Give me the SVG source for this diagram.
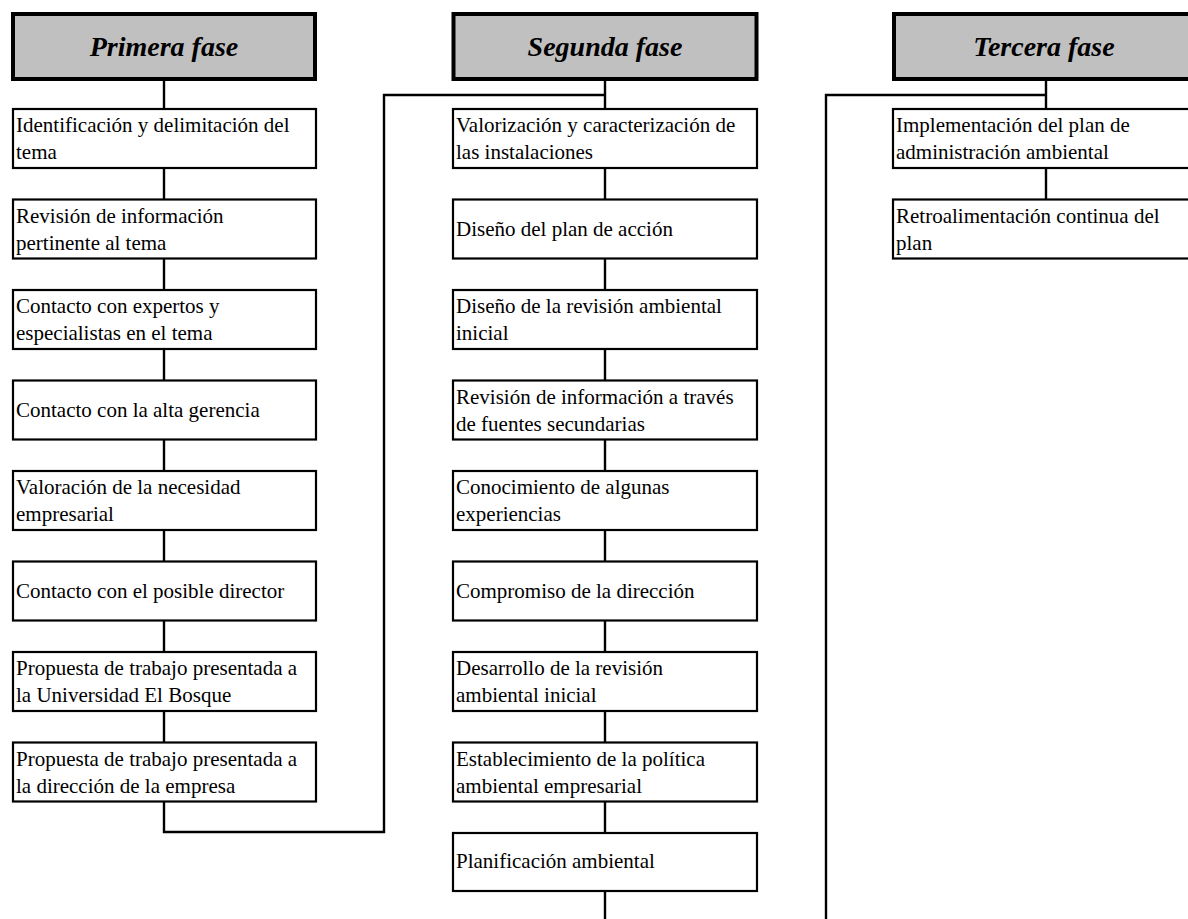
<svg xmlns="http://www.w3.org/2000/svg" width="1188" height="919" viewBox="0 0 1188 919">
<style>
.hdr{fill:#c0c0c0;stroke:#000;stroke-width:4}
.box{fill:#fff;stroke:#000;stroke-width:2.2}
.ht{font-family:"Liberation Serif","Times New Roman",serif;font-size:28px;font-weight:bold;font-style:italic;text-anchor:middle;fill:#000}
.bt{font-family:"Liberation Serif","Times New Roman",serif;font-size:21px;fill:#000}
.con{fill:none;stroke:#000;stroke-width:2.4}
</style>
<rect width="1188" height="919" fill="#fff"/>
<g id="connectors">
<path class="con" d="M164 80V108M164 168V199M164 259V289M164 350V380M164 440V470M164 531V561M164 621V651M164 712V742M164 802V832H384V95H605"/>
<path class="con" d="M605 80V108M605 168V199M605 259V289M605 350V380M605 440V470M605 531V561M605 621V651M605 712V742M605 802V832M605 892V919"/>
<path class="con" d="M826 919V95H1046M1046 80V108M1046 168V199"/>
</g>
<g id="h1"><rect class="hdr" x="13" y="14" width="302" height="65"/><text class="ht" x="164" y="56">Primera fase</text></g>
<g id="h2"><rect class="hdr" x="453.5" y="14" width="303" height="65"/><text class="ht" x="605" y="56">Segunda fase</text></g>
<g id="h3"><rect class="hdr" x="894" y="14" width="302" height="65"/><text class="ht" x="1044" y="56">Tercera fase</text></g>

<g id="c1n1"><rect class="box" x="13" y="109" width="303" height="59"/><text class="bt" x="16" y="132">Identificación y delimitación del</text><text class="bt" x="16" y="159">tema</text></g>
<g id="c1n2"><rect class="box" x="13" y="199.5" width="303" height="59"/><text class="bt" x="16" y="222.5">Revisión de información</text><text class="bt" x="16" y="249.5">pertinente al tema</text></g>
<g id="c1n3"><rect class="box" x="13" y="290" width="303" height="59"/><text class="bt" x="16" y="313">Contacto con expertos y</text><text class="bt" x="16" y="340">especialistas en el tema</text></g>
<g id="c1n4"><rect class="box" x="13" y="380.5" width="303" height="59"/><text class="bt" x="16" y="417">Contacto con la alta gerencia</text></g>
<g id="c1n5"><rect class="box" x="13" y="471" width="303" height="59"/><text class="bt" x="16" y="494">Valoración de la necesidad</text><text class="bt" x="16" y="521">empresarial</text></g>
<g id="c1n6"><rect class="box" x="13" y="561.5" width="303" height="59"/><text class="bt" x="16" y="598">Contacto con el posible director</text></g>
<g id="c1n7"><rect class="box" x="13" y="652" width="303" height="59"/><text class="bt" x="16" y="675">Propuesta de trabajo presentada a</text><text class="bt" x="16" y="702">la Universidad El Bosque</text></g>
<g id="c1n8"><rect class="box" x="13" y="742.5" width="303" height="59"/><text class="bt" x="16" y="765.5">Propuesta de trabajo presentada a</text><text class="bt" x="16" y="792.5">la dirección de la empresa</text></g>

<g id="c2n1"><rect class="box" x="453" y="109" width="304" height="59"/><text class="bt" x="456" y="132">Valorización y caracterización de</text><text class="bt" x="456" y="159">las instalaciones</text></g>
<g id="c2n2"><rect class="box" x="453" y="199.5" width="304" height="59"/><text class="bt" x="456" y="236">Diseño del plan de acción</text></g>
<g id="c2n3"><rect class="box" x="453" y="290" width="304" height="59"/><text class="bt" x="456" y="313">Diseño de la revisión ambiental</text><text class="bt" x="456" y="340">inicial</text></g>
<g id="c2n4"><rect class="box" x="453" y="380.5" width="304" height="59"/><text class="bt" x="456" y="403.5">Revisión de información a través</text><text class="bt" x="456" y="430.5">de fuentes secundarias</text></g>
<g id="c2n5"><rect class="box" x="453" y="471" width="304" height="59"/><text class="bt" x="456" y="494">Conocimiento de algunas</text><text class="bt" x="456" y="521">experiencias</text></g>
<g id="c2n6"><rect class="box" x="453" y="561.5" width="304" height="59"/><text class="bt" x="456" y="598">Compromiso de la dirección</text></g>
<g id="c2n7"><rect class="box" x="453" y="652" width="304" height="59"/><text class="bt" x="456" y="675">Desarrollo de la revisión</text><text class="bt" x="456" y="702">ambiental inicial</text></g>
<g id="c2n8"><rect class="box" x="453" y="742.5" width="304" height="59"/><text class="bt" x="456" y="765.5">Establecimiento de la política</text><text class="bt" x="456" y="792.5">ambiental empresarial</text></g>
<g id="c2n9"><rect class="box" x="453" y="833" width="304" height="58"/><text class="bt" x="456" y="868">Planificación ambiental</text></g>

<g id="c3n1"><rect class="box" x="893" y="109" width="304" height="59"/><text class="bt" x="896" y="132">Implementación del plan de</text><text class="bt" x="896" y="159">administración ambiental</text></g>
<g id="c3n2"><rect class="box" x="893" y="199.5" width="304" height="59"/><text class="bt" x="896" y="222.5">Retroalimentación continua del</text><text class="bt" x="896" y="249.5">plan</text></g>
</svg>
